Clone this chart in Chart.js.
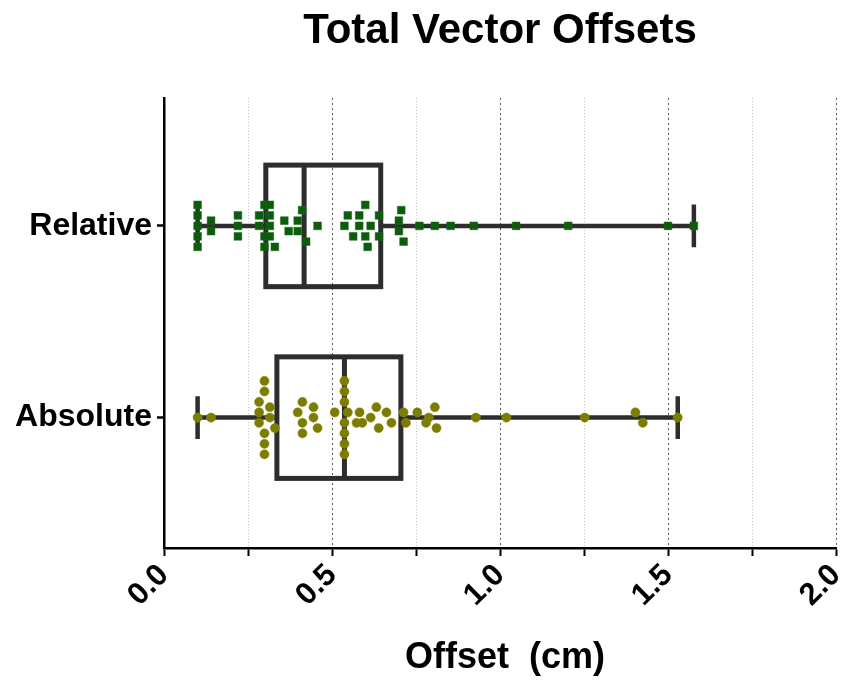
<!DOCTYPE html>
<html>
<head>
<meta charset="utf-8">
<script src="https://cdn.jsdelivr.net/npm/chart.js@4.4.0/dist/chart.umd.min.js"></script>
<style>
  html, body { margin: 0; padding: 0; background: #fff; }
  canvas { display: block; }
</style>
</head>
<body>
<canvas id="myChart" width="850" height="682"></canvas>
<script>
const categories = ['Relative', 'Absolute'];
const categoryPos = [1, 0];

const relativeValues = [
  0.10, 0.10, 0.10, 0.10, 0.10, 0.14, 0.14, 0.22, 0.22, 0.22,
  0.283, 0.283, 0.299, 0.299, 0.299, 0.315, 0.315, 0.315, 0.315, 0.33,
  0.358, 0.371, 0.398, 0.398, 0.411, 0.423, 0.457, 0.537, 0.547, 0.563,
  0.581, 0.581, 0.599, 0.599, 0.606, 0.615, 0.640, 0.640, 0.699, 0.699,
  0.706, 0.713, 0.760, 0.806, 0.853, 0.922, 1.048, 1.203, 1.500, 1.577
];
const absoluteValues = [
  0.10, 0.14, 0.283, 0.283, 0.283, 0.299, 0.299, 0.299, 0.299, 0.299,
  0.315, 0.315, 0.33, 0.398, 0.412, 0.412, 0.412, 0.445, 0.445, 0.457,
  0.508, 0.537, 0.537, 0.537, 0.537, 0.537, 0.537, 0.537, 0.547, 0.573,
  0.582, 0.590, 0.615, 0.632, 0.639, 0.662, 0.677, 0.713, 0.720, 0.754,
  0.780, 0.788, 0.806, 0.811, 0.928, 1.019, 1.252, 1.403, 1.425, 1.529
];

// box and whiskers
const whiskerMin = [0.10, 0.10];
const q1 = [0.303, 0.336];
const median = [0.417, 0.537];
const q3 = [0.645, 0.705];
const whiskerMax = [1.577, 1.529];

const FONT = "'Liberation Sans', Arial, sans-serif";
const BIN = 0.031;    // dot width along the value axis
const STEP = 0.0547;  // spacing of stacked dots, in category units

// simple column scatter: dots closer than one dot width get stacked around the centre line
function swarm(values, pos) {
  const sorted = values.slice().sort((a, b) => a - b);
  const groups = [];
  sorted.forEach(v => {
    const g = groups[groups.length - 1];
    if (g && v - g[0] < BIN) g.push(v);
    else groups.push([v]);
  });
  const pts = [];
  groups.forEach(g => {
    const slots = [];
    for (let j = 0; j < g.length; j++) slots.push(j - (g.length - 1) / 2);
    slots.sort((a, b) => Math.abs(a) - Math.abs(b) || a - b);
    g.forEach((v, k) => pts.push({ x: v, y: pos - slots[k] * STEP }));
  });
  return pts;
}

const isMajor = v => Math.abs(v * 2 - Math.round(v * 2)) < 1e-9;

const boxPlugin = {
  id: 'boxes',
  beforeDatasetsDraw(chart) {
    const { ctx, scales: { x, y } } = chart;
    ctx.save();
    ctx.strokeStyle = '#2d2d2d';
    categoryPos.forEach((p, i) => {
      const yc = y.getPixelForValue(p);
      const yt = y.getPixelForValue(p + 0.317);
      const yb = y.getPixelForValue(p - 0.317);
      const ct = y.getPixelForValue(p + 0.111);
      const cb = y.getPixelForValue(p - 0.111);
      const xmin = x.getPixelForValue(whiskerMin[i]);
      const xq1 = x.getPixelForValue(q1[i]);
      const xmed = x.getPixelForValue(median[i]);
      const xq3 = x.getPixelForValue(q3[i]);
      const xmax = x.getPixelForValue(whiskerMax[i]);

      ctx.lineWidth = 4.5;
      ctx.beginPath();
      ctx.moveTo(xmin, yc); ctx.lineTo(xq1, yc);
      ctx.moveTo(xq3, yc); ctx.lineTo(xmax, yc);
      ctx.moveTo(xmin, ct); ctx.lineTo(xmin, cb);
      ctx.moveTo(xmax, ct); ctx.lineTo(xmax, cb);
      ctx.stroke();

      ctx.lineWidth = 5;
      ctx.strokeRect(xq1, yt, xq3 - xq1, yb - yt);
      ctx.beginPath();
      ctx.moveTo(xmed, yt); ctx.lineTo(xmed, yb);
      ctx.stroke();
    });
    ctx.restore();
  }
};

const ctx = document.getElementById('myChart').getContext('2d');
const chart = new Chart(ctx, {
  type: 'scatter',
  data: {
    datasets: [
      {
        label: categories[0],
        data: swarm(relativeValues, categoryPos[0]),
        pointStyle: 'rect',
        pointRadius: 5.5,
        backgroundColor: '#0b5d0b',
        borderColor: '#1f6a1f',
        borderWidth: 0.5
      },
      {
        label: categories[1],
        data: swarm(absoluteValues, categoryPos[1]),
        pointStyle: 'circle',
        pointRadius: 4.6,
        backgroundColor: '#7c7c00',
        borderColor: '#8c8c14',
        borderWidth: 0.5
      }
    ]
  },
  options: {
    responsive: false,
    animation: false,
    events: [],
    layout: { padding: { left: 0, right: 14, top: 0, bottom: 0 } },
    plugins: {
      legend: { display: false },
      tooltip: { enabled: false },
      title: {
        display: true,
        text: 'Total Vector Offsets',
        fullSize: false,
        color: '#000',
        font: { family: FONT, size: 42, weight: 'bold' },
        padding: { top: 6, bottom: 41.6 }
      }
    },
    scales: {
      x: {
        type: 'linear',
        min: 0,
        max: 2,
        afterFit(s) { s.height = 134; s.paddingLeft = 0; s.paddingRight = 0; },
        ticks: {
          stepSize: 0.25,
          autoSkip: false,
          minRotation: 45,
          maxRotation: 45,
          padding: 1,
          color: '#000',
          font: { family: FONT, size: 31, weight: 'bold' },
          callback: v => (isMajor(v) ? v.toFixed(1) : '')
        },
        grid: {
          color: c => (c.tick && isMajor(c.tick.value) ? '#555' : '#c4c4c4'),
          lineWidth: 1,
          tickColor: '#000',
          tickWidth: 2,
          tickLength: 8,
          tickBorderDash: []
        },
        border: {
          color: '#000',
          width: 2.5,
          dash: c => (c.tick && isMajor(c.tick.value) ? [2, 3] : [1, 2])
        },
        title: {
          display: true,
          text: ' Offset  (cm)',
          color: '#000',
          font: { family: FONT, size: 36, weight: 'bold' },
          padding: { top: 0, bottom: 2 }
        }
      },
      y: {
        type: 'linear',
        min: -0.68,
        max: 1.667,
        afterFit(s) { s.width = 164; s.paddingTop = 0; s.paddingBottom = 0; },
        afterBuildTicks(s) { s.ticks = categoryPos.map(v => ({ value: v })); },
        ticks: {
          padding: 5,
          color: '#000',
          font: { family: FONT, size: 32, weight: 'bold' },
          callback: v => categories[categoryPos.indexOf(v)]
        },
        grid: {
          drawOnChartArea: false,
          color: '#000',
          tickColor: '#000',
          tickWidth: 2.5,
          tickLength: 7
        },
        border: { color: '#000', width: 2.5 }
      }
    }
  },
  plugins: [boxPlugin]
});
</script>
</body>
</html>
